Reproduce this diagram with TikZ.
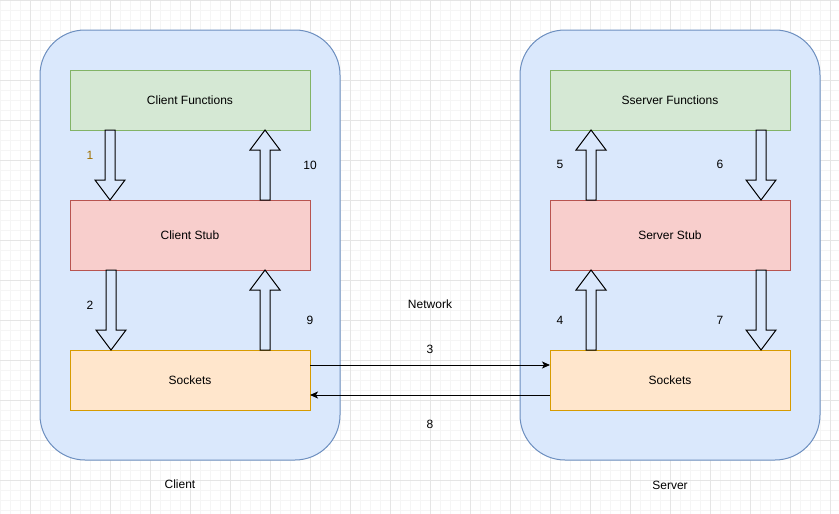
\documentclass[tikz,border=0pt]{standalone}
\usepackage{fontspec}
\setmainfont{Liberation Sans}
\usetikzlibrary{arrows.meta, positioning, calc}

\definecolor{sidefill}{HTML}{DAE8FC}
\definecolor{sideline}{HTML}{6C8EBF}
\definecolor{funcfill}{HTML}{D5E8D4}
\definecolor{funcline}{HTML}{82B366}
\definecolor{stubfill}{HTML}{F8CECC}
\definecolor{stubline}{HTML}{B85450}
\definecolor{sockfill}{HTML}{FFE6CC}
\definecolor{sockline}{HTML}{D79B00}
\definecolor{gridminor}{HTML}{F5F5F5}
\definecolor{gridmajor}{HTML}{E5E5E5}
\definecolor{stepone}{HTML}{A07000}

\begin{document}
\begin{tikzpicture}[
  x=1pt, y=-1pt,
  every node/.style={font=\fontsize{12pt}{14pt}\selectfont},
  side/.style={rectangle, draw=sideline, fill=sidefill, line width=1pt, rounded corners=45pt, minimum width=300pt, minimum height=430pt},
  layer/.style={rectangle, line width=1pt, minimum width=240pt, minimum height=60pt, inner sep=0pt, outer sep=0pt},
  funcbox/.style={layer, draw=funcline, fill=funcfill},
  stubbox/.style={layer, draw=stubline, fill=stubfill, minimum height=70pt},
  sockbox/.style={layer, draw=sockline, fill=sockfill},
  msg/.style={-{Stealth[length=8pt, width=7pt, inset=2pt]}, line width=1pt},
  fatarrow/.style={draw=black, line width=1pt, fill=sidefill,
    to path={let \p1=(\tikztostart), \p2=(\tikztotarget), \p3=($(\tikztotarget)!20pt!(\tikztostart)$) in
      (\x1-5pt,\y1) -- (\x1-5pt,\y3) -- (\x1-15pt,\y3) -- (\x2,\y2) -- (\x1+15pt,\y3) -- (\x1+5pt,\y3) -- (\x1+5pt,\y1) -- cycle}}
]
\useasboundingbox (0,0) rectangle (839,514);

% Background grid
\foreach \gx in {0,10,...,830} \draw[gridminor, line width=1pt] (\gx,0) -- (\gx,514);
\foreach \gy in {0,10,...,510} \draw[gridminor, line width=1pt] (0,\gy) -- (839,\gy);
\foreach \gx in {30,70,...,830} \draw[gridmajor, line width=1pt] (\gx,0) -- (\gx,514);
\foreach \gy in {0,40,...,480} \draw[gridmajor, line width=1pt] (0,\gy) -- (839,\gy);

% Client and server
\node[side] (client) at (190,245) {};
\node[side] (server) at (670,245) {};
\node (clientlbl) at (180,484) {Client};
\node (serverlbl) at (670,485) {Server};

% Layers
\node[funcbox] (cf) at (190,100) {Client Functions};
\node[stubbox, below=70pt of cf] (cs) {Client Stub};
\node[sockbox, below=80pt of cs] (csk) {Sockets};

\node[funcbox, right=240pt of cf] (sf) {Sserver Functions};
\node[stubbox, right=240pt of cs] (ss) {Server Stub};
\node[sockbox, right=240pt of csk] (ssk) {Sockets};

% Calls through the layers
\draw[fatarrow] ([xshift=40pt]cf.south west) to ([xshift=40pt]cs.north west);
\draw[fatarrow] ([xshift=41pt]cs.south west) to ([xshift=41pt]csk.north west);
\draw[fatarrow] ([xshift=195pt]csk.north west) to ([xshift=195pt]cs.south west);
\draw[fatarrow] ([xshift=195pt]cs.north west) to ([xshift=195pt]cf.south west);

\draw[fatarrow] ([xshift=41pt]ssk.north west) to ([xshift=41pt]ss.south west);
\draw[fatarrow] ([xshift=41pt]ss.north west) to ([xshift=41pt]sf.south west);
\draw[fatarrow] ([xshift=211pt]sf.south west) to ([xshift=211pt]ss.north west);
\draw[fatarrow] ([xshift=211pt]ss.south west) to ([xshift=211pt]ssk.north west);

% Network
\draw[msg] ([yshift=15pt]csk.east) -- ([yshift=15pt]ssk.west);
\draw[msg] ([yshift=-15pt]ssk.west) -- ([yshift=-15pt]csk.east);
\node (net) at (430,304) {Network};

% Step numbers
\node[text=stepone] (lbl1) at (90,155) {1};
\foreach \t/\px/\py in {10/310/165, 2/90/305, 9/310/320, 3/430/349, 8/430/424, 5/560/164, 6/720/164, 4/560/320, 7/720/320}
  \node (lbl\t) at (\px,\py) {\t};
\end{tikzpicture}
\end{document}
